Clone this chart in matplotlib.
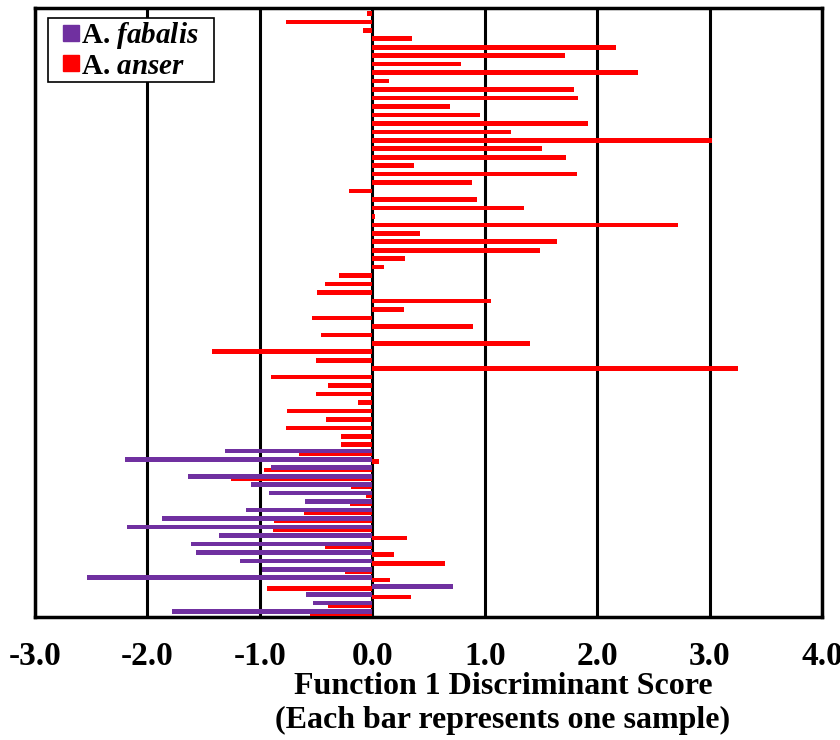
import matplotlib
matplotlib.use("Agg")
import matplotlib.pyplot as plt
from matplotlib.lines import Line2D
import numpy as np

plt.rcParams['font.family'] = ['Liberation Serif', 'DejaVu Serif']
plt.rcParams['font.weight'] = 'bold'
plt.rcParams['mathtext.fontset'] = 'custom'
plt.rcParams['mathtext.it'] = 'Liberation Serif:bold:italic'
plt.rcParams['mathtext.rm'] = 'Liberation Serif:bold'

# discriminant scores, one per sample, listed top to bottom
anser = [-0.05, -0.77, -0.08, 0.35, 2.17, 1.71, 0.79, 2.36, 0.15, 1.79,
         1.83, 0.69, 0.96, 1.92, 1.23, 3.02, 1.51, 1.72, 0.37, 1.82,
         0.89, -0.21, 0.93, 1.35, 0.02, 2.72, 0.42, 1.64, 1.49, 0.29,
         0.10, -0.30, -0.42, -0.49, 1.06, 0.28, -0.54, 0.90, -0.46, 1.40,
         -1.43, -0.50, 3.25, -0.90, -0.39, -0.50, -0.13, -0.76, -0.41, -0.77,
         -0.28, -0.28, -0.65, 0.06, -0.96, -1.26, -0.19, -0.06, -0.20, -0.61,
         -0.87, -0.88, 0.31, -0.42, 0.19, 0.65, -0.24, 0.16, -0.94, 0.34,
         -0.39, -0.55]
# fabalis only fills the last 20 sample slots
fabalis = [-1.31, -2.20, -0.90, -1.64, -1.08, -0.92, -0.60, -1.12, -1.87, -2.18,
           -1.36, -1.61, -1.57, -1.18, -0.98, -2.54, 0.72, -0.59, -0.53, -1.78]
xticks = [-3, -2, -1, 0, 1, 2, 3, 4]

purple = '#7030A0'
red = '#FF0000'

n = len(anser)
pos = np.arange(n)
pos_fab = pos[n - len(fabalis):]

fig = plt.figure(figsize=(8.4, 7.4), dpi=100)
ax = fig.add_axes([35/840, 1 - 617/740, 787/840, 609/740])

ax.barh(pos + 0.14, anser, height=0.55, color=red, zorder=3)
ax.barh(pos_fab - 0.14, fabalis, height=0.55, color=purple, zorder=4)

ax.set_xlim(-3, 4)
ax.set_ylim(n - 0.5, -0.5)
ax.set_xticks(xticks)
ax.set_xticklabels(['%.1f' % t for t in xticks], fontsize=24, fontweight='bold')
ax.set_yticks([])
ax.tick_params(axis='x', length=0, pad=17)
ax.grid(axis='x', color='black', linewidth=2.2, zorder=1)
ax.set_axisbelow(True)
for s in ax.spines.values():
    s.set_linewidth(2.5)

handles = [Line2D([], [], marker='s', linestyle='none', color=purple, markersize=11),
           Line2D([], [], marker='s', linestyle='none', color=red, markersize=11)]
labels = [r'A. $\mathit{fabalis}$', r'A. $\mathit{anser}$']
leg = ax.legend(handles, labels, loc='upper left', mode='expand',
                bbox_to_anchor=(0.0165, 0.884, 0.211, 0.1),
                borderaxespad=0, fancybox=False, framealpha=1, edgecolor='black',
                prop={'size': 21, 'weight': 'bold'}, handlelength=1.45,
                handletextpad=-0.4, borderpad=0.08, labelspacing=0.05)
leg.get_frame().set_linewidth(1.2)

fig.text(503/840, 1 - 686/740, 'Function 1 Discriminant Score', ha='center', va='center',
         fontsize=23, fontweight='bold')
fig.text(503/840, 1 - 720/740, '(Each bar represents one sample)', ha='center', va='center',
         fontsize=23, fontweight='bold')

fig.savefig('out.png', dpi=100)
